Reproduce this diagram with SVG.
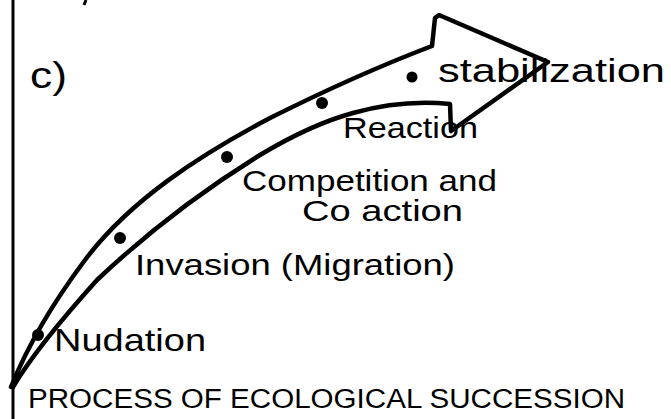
<svg xmlns="http://www.w3.org/2000/svg" width="671" height="419" viewBox="0 0 671 419">
<style>
.ln{fill:none;stroke:#000;stroke-width:4.5;stroke-linejoin:round;stroke-linecap:round}
.t{font-family:"Liberation Sans","DejaVu Sans",sans-serif;fill:#000}
.dot{fill:#000}
</style>
<rect width="671" height="419" fill="#fff"/>
<g id="frame">
<line x1="13" y1="0" x2="13" y2="419" stroke="#000" stroke-width="3"/>
<line x1="86" y1="0" x2="84" y2="5" stroke="#000" stroke-width="3"/>
<text class="t" x="30" y="88" font-size="36" textLength="37" lengthAdjust="spacingAndGlyphs">c)</text>
</g>
<g id="connectors">
<path class="ln" d="M11,387 C30,340 55,300 85,260 C130,200 200,155 270,118 C330,88 390,62 432,46 L435,18 L439,15 L548,62 L451,131 L450,104 C420,101 385,104 353,113 C320,122 290,137 260,155 C200,192 150,230 97,280 C70,310 35,350 13,387"/>
</g>
<g id="node-nudation">
<circle class="dot" cx="38" cy="335" r="6"/>
<text class="t" x="54" y="351" font-size="32" textLength="152" lengthAdjust="spacingAndGlyphs">Nudation</text>
</g>
<g id="node-invasion">
<circle class="dot" cx="120" cy="238" r="6"/>
<text class="t" x="135" y="275" font-size="30" textLength="320" lengthAdjust="spacingAndGlyphs">Invasion (Migration)</text>
</g>
<g id="node-competition">
<circle class="dot" cx="227" cy="157" r="6"/>
<text class="t" x="242" y="191" font-size="30" textLength="255" lengthAdjust="spacingAndGlyphs">Competition and</text>
<text class="t" x="302" y="221" font-size="30" textLength="161" lengthAdjust="spacingAndGlyphs">Co action</text>
</g>
<g id="node-reaction">
<circle class="dot" cx="322" cy="103" r="6"/>
<text class="t" x="343" y="138" font-size="29" textLength="135" lengthAdjust="spacingAndGlyphs">Reaction</text>
</g>
<g id="node-stabilization">
<circle class="dot" cx="412" cy="77" r="5.5"/>
<text class="t" x="438" y="82" font-size="34" textLength="227" lengthAdjust="spacingAndGlyphs">stabilization</text>
</g>
<g id="title">
<text class="t" x="28" y="408" font-size="27" textLength="597" lengthAdjust="spacingAndGlyphs">PROCESS OF ECOLOGICAL SUCCESSION</text>
</g>
</svg>
